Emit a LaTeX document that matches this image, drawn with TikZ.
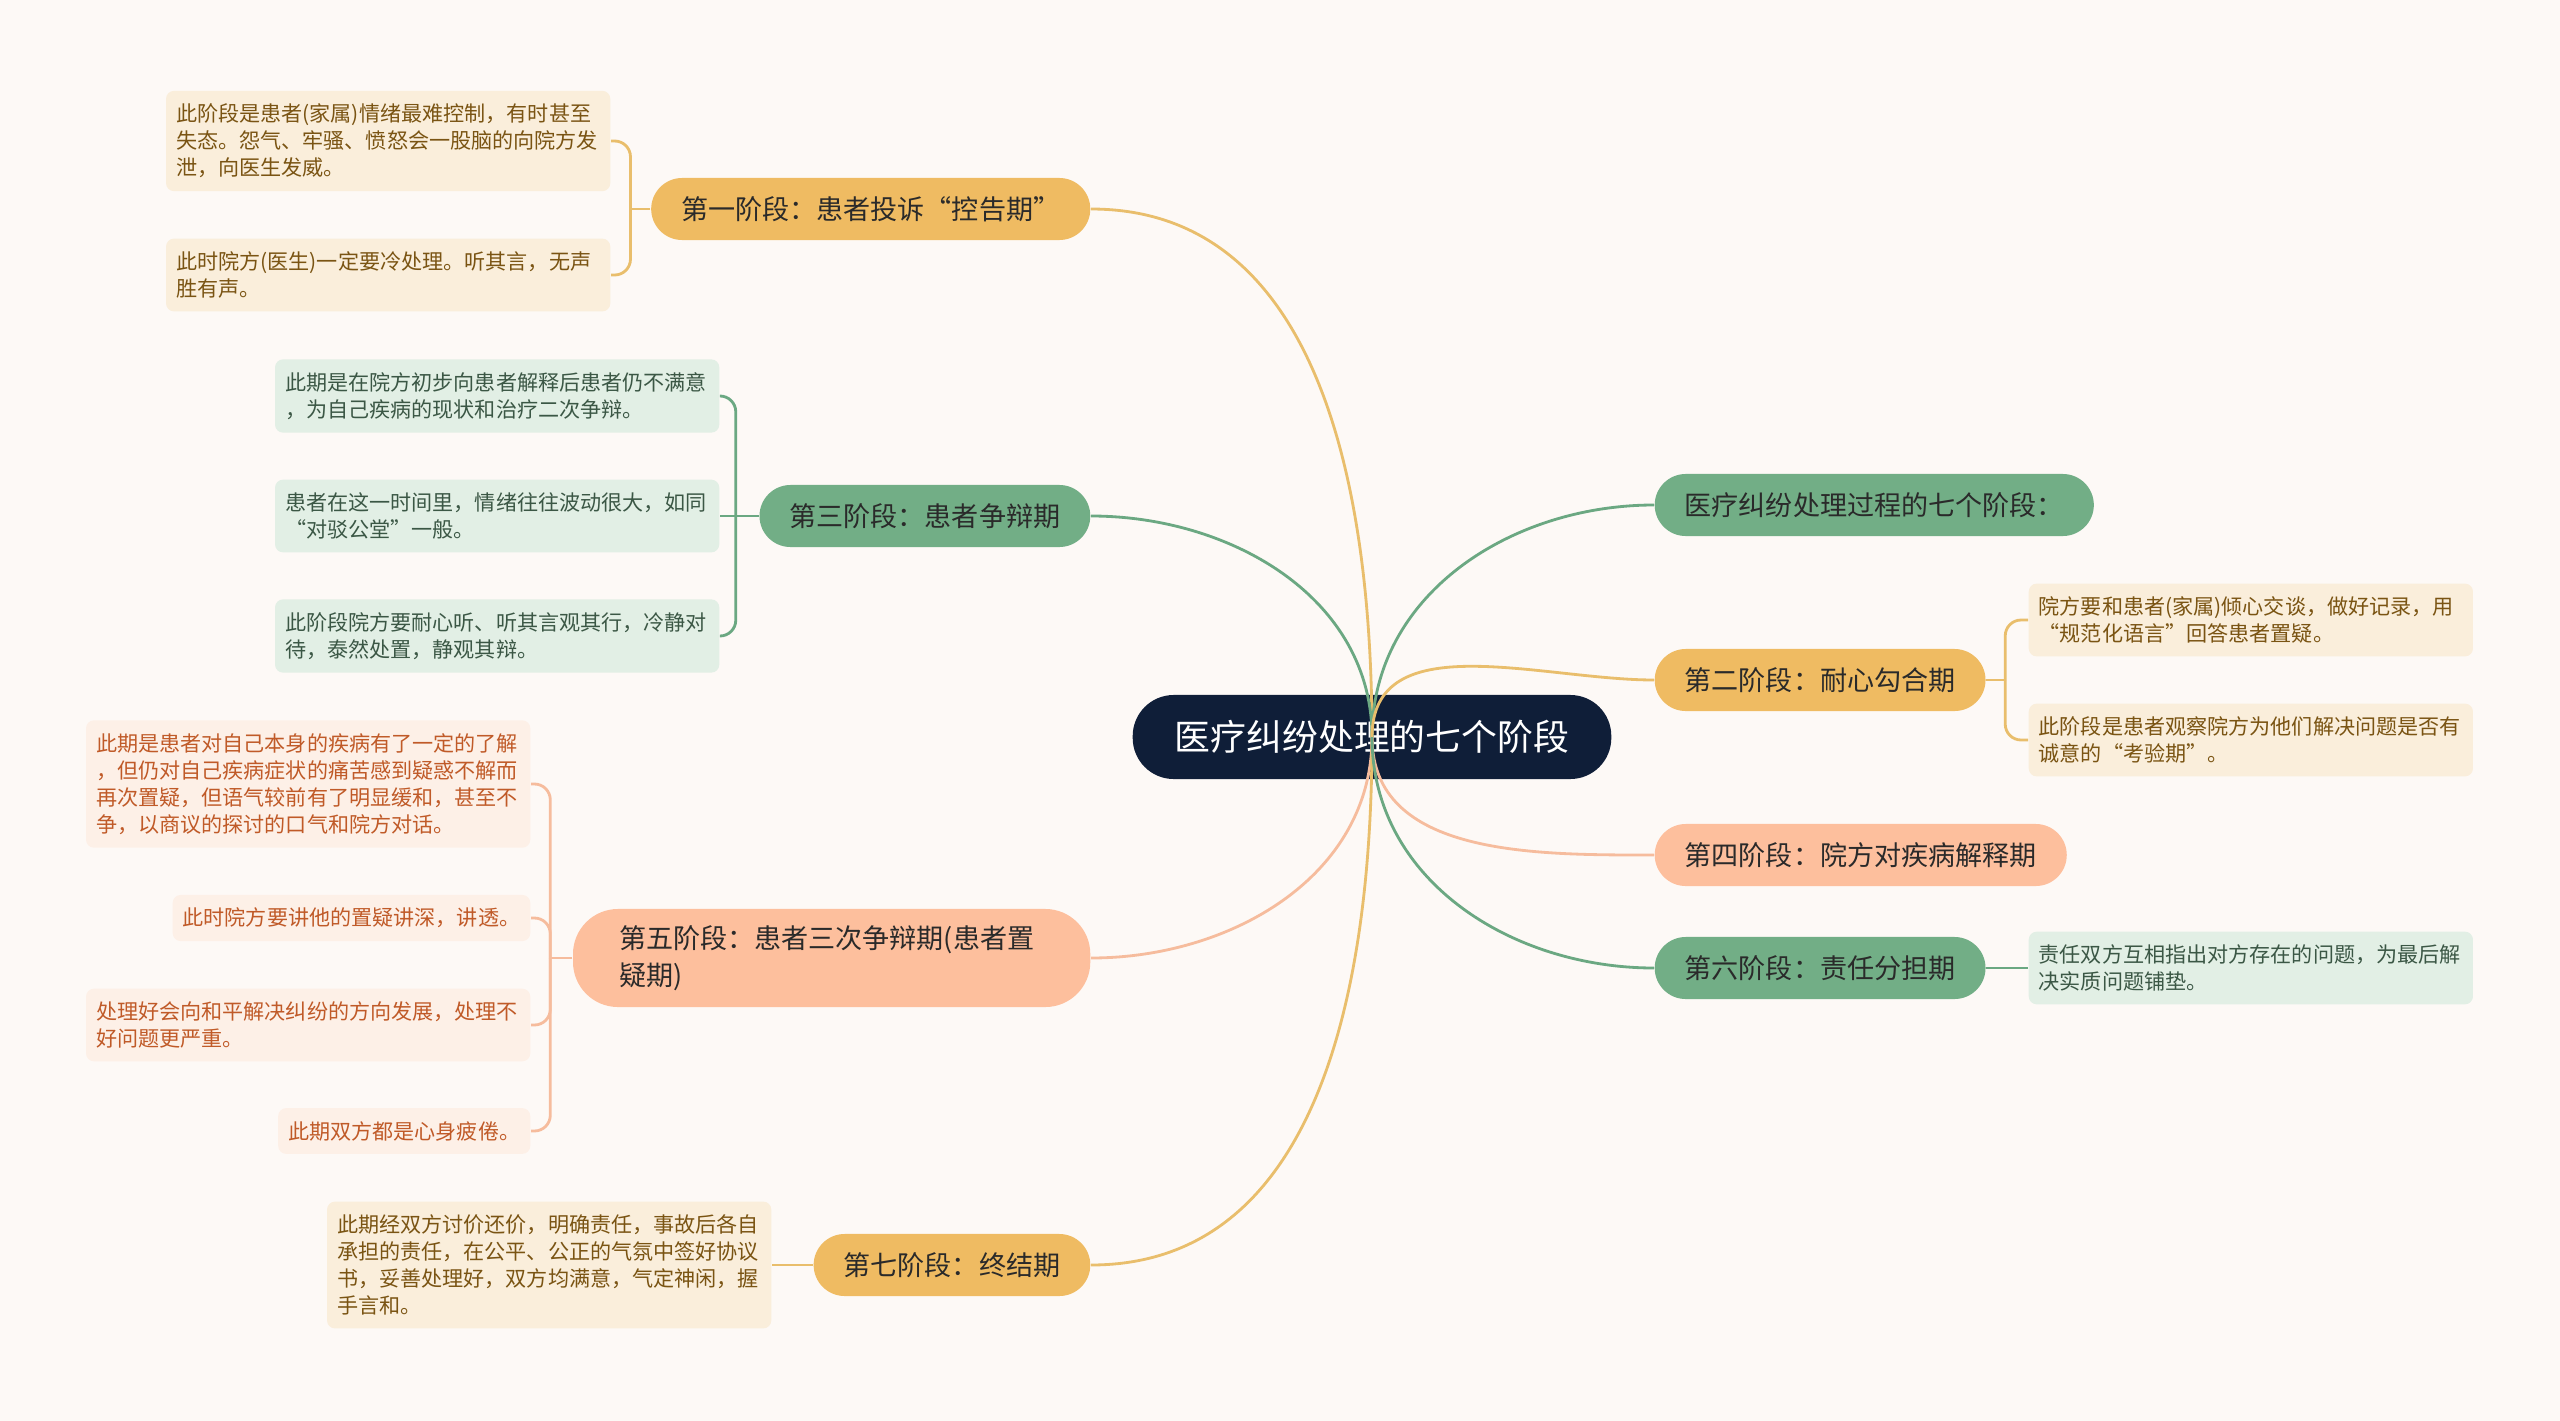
\documentclass[tikz,border=0pt]{standalone}
\usepackage{fontspec}
\setmainfont{Noto Sans CJK SC}
\usetikzlibrary{positioning}

\definecolor{bgc}{HTML}{FDF9F6}
\definecolor{navy}{HTML}{0F1E38}
\definecolor{gold}{HTML}{EFBB62}
\definecolor{goldline}{HTML}{E9BE6C}
\definecolor{goldleaf}{HTML}{FAEEDB}
\definecolor{goldtext}{HTML}{7A5413}
\definecolor{sage}{HTML}{72AE86}
\definecolor{sageline}{HTML}{6BA882}
\definecolor{sageleaf}{HTML}{E2EFE5}
\definecolor{sagetext}{HTML}{3B5745}
\definecolor{salmon}{HTML}{FDBF9D}
\definecolor{salmonline}{HTML}{F6BC9D}
\definecolor{salmonleaf}{HTML}{FDF0E7}
\definecolor{salmontext}{HTML}{C05A28}
\definecolor{ink}{HTML}{2A2A2A}

\tikzset{
  root/.style={fill=navy, text=white, rounded corners=0.41cm, minimum height=0.84cm,
    inner xsep=0.42cm, font=\fontsize{10.2}{12}\selectfont},
  stage/.style={rounded corners=0.31cm, minimum height=0.62cm, inner xsep=0.3cm,
    inner ysep=0pt, text=ink, font=\fontsize{7.7}{10.4}\selectfont},
  leaf/.style={rounded corners=0.08cm, inner xsep=0.1cm, inner ysep=0.13cm,
    align=left, font=\fontsize{6}{7.7}\selectfont},
  wide/.style={text width=4.24cm},
  gleaf/.style={leaf, fill=goldleaf, text=goldtext},
  sleaf/.style={leaf, fill=sageleaf, text=sagetext},
  oleaf/.style={leaf, fill=salmonleaf, text=salmontext},
  link/.style={line width=0.8pt},
  brace/.style={line width=0.8pt, rounded corners=4.5pt}
}

\begin{document}
\begin{tikzpicture}[x=0.01cm, y=-0.01cm]
  \fill[bgc] (0,0) rectangle (2560,1421);

  \node[root] (root) at (1372,737) {医疗纠纷处理的七个阶段};

  % stages, left side
  \node[stage, fill=gold, anchor=east] (s1) at (1091,209) {第一阶段：患者投诉“控告期”};
  \node[stage, fill=sage, anchor=east] (s3) at (1091,516) {第三阶段：患者争辩期};
  \node[stage, fill=salmon, anchor=east, text width=4.25cm, align=left, inner xsep=0.46cm,
    minimum height=0.98cm, rounded corners=0.45cm] (s5) at (1091,958) {第五阶段：患者三次争辩期(患者置\\疑期)};
  \node[stage, fill=gold, anchor=east] (s7) at (1091,1265) {第七阶段：终结期};

  % stages, right side
  \node[stage, fill=sage, anchor=west] (s0) at (1654,505) {医疗纠纷处理过程的七个阶段：};
  \node[stage, fill=gold, anchor=west] (s2) at (1654,680) {第二阶段：耐心勾合期};
  \node[stage, fill=salmon, anchor=west] (s4) at (1654,855) {第四阶段：院方对疾病解释期};
  \node[stage, fill=sage, anchor=west] (s6) at (1654,968) {第六阶段：责任分担期};

  % leaves
  \node[gleaf, wide, anchor=east] (l1a) at (611,141) {此阶段是患者(家属)情绪最难控制，有时甚至\\失态。怨气、牢骚、愤怒会一股脑的向院方发\\泄，向医生发威。};
  \node[gleaf, wide, anchor=east] (l1b) at (611,275) {此时院方(医生)一定要冷处理。听其言，无声\\胜有声。};
  \node[sleaf, wide, anchor=east] (l3a) at (720,396) {此期是在院方初步向患者解释后患者仍不满意\\，为自己疾病的现状和治疗二次争辩。};
  \node[sleaf, wide, anchor=east] (l3b) at (720,516) {患者在这一时间里，情绪往往波动很大，如同\\“对驳公堂”一般。};
  \node[sleaf, wide, anchor=east] (l3c) at (720,636) {此阶段院方要耐心听、听其言观其行，冷静对\\待，泰然处置，静观其辩。};
  \node[oleaf, wide, anchor=east] (l5a) at (531,784) {此期是患者对自己本身的疾病有了一定的了解\\，但仍对自己疾病症状的痛苦感到疑惑不解而\\再次置疑，但语气较前有了明显缓和，甚至不\\争，以商议的探讨的口气和院方对话。};
  \node[oleaf, anchor=east] (l5b) at (531,918) {此时院方要讲他的置疑讲深，讲透。};
  \node[oleaf, wide, anchor=east] (l5c) at (531,1025) {处理好会向和平解决纠纷的方向发展，处理不\\好问题更严重。};
  \node[oleaf, anchor=east] (l5d) at (531,1131) {此期双方都是心身疲倦。};
  \node[gleaf, wide, anchor=east] (l7) at (772,1265) {此期经双方讨价还价，明确责任，事故后各自\\承担的责任，在公平、公正的气氛中签好协议\\书，妥善处理好，双方均满意，气定神闲，握\\手言和。};
  \node[gleaf, wide, anchor=west] (l2a) at (2028,620) {院方要和患者(家属)倾心交谈，做好记录，用\\“规范化语言”回答患者置疑。};
  \node[gleaf, wide, anchor=west] (l2b) at (2028,740) {此阶段是患者观察院方为他们解决问题是否有\\诚意的“考验期”。};
  \node[sleaf, wide, anchor=west] (l6) at (2028,968) {责任双方互相指出对方存在的问题，为最后解\\决实质问题铺垫。};

  % root to stages
  \foreach \s/\o/\c in {s1/90/goldline, s3/90/sageline, s5/-90/salmonline, s7/-90/goldline}
    \draw[link, draw=\c] (root.center) to[out=\o, in=0] (\s.east);
  \foreach \s/\o/\c in {s0/90/sageline, s2/90/goldline, s4/-90/salmonline, s6/-90/sageline}
    \draw[link, draw=\c] (root.center) to[out=\o, in=180] (\s.west);

  % stages to leaves
  \draw[link, draw=goldline] (s1.west) -- ++(-20,0) coordinate (b1);
  \foreach \l in {l1a,l1b} \draw[brace, draw=goldline] (b1) |- (\l.east);
  \draw[link, draw=sageline] (s3.west) -- ++(-23,0) coordinate (b3) -- (l3b.east);
  \foreach \l in {l3a,l3c} \draw[brace, draw=sageline] (b3) |- (\l.east);
  \draw[link, draw=salmonline] (s5.west) -- ++(-22,0) coordinate (b5);
  \foreach \l in {l5a,l5b,l5c,l5d} \draw[brace, draw=salmonline] (b5) |- (\l.east);
  \draw[link, draw=goldline] (s7.west) -- (l7.east);
  \draw[link, draw=goldline] (s2.east) -- ++(19,0) coordinate (b2);
  \foreach \l in {l2a,l2b} \draw[brace, draw=goldline] (b2) |- (\l.west);
  \draw[link, draw=sageline] (s6.east) -- (l6.west);
\end{tikzpicture}
\end{document}
